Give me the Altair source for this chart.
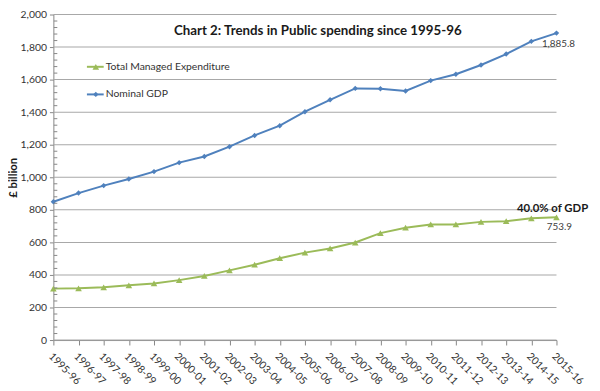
import altair as alt
import pandas as pd

years = ["1995-96", "1996-97", "1997-98", "1998-99", "1999-00", "2000-01", "2001-02",
         "2002-03", "2003-04", "2004-05", "2005-06", "2006-07", "2007-08", "2008-09",
         "2009-10", "2010-11", "2011-12", "2012-13", "2013-14", "2014-15", "2015-16"]
gdp = [850, 903, 949, 989, 1035, 1090, 1128, 1188, 1257, 1317, 1403, 1476, 1546, 1544,
       1530, 1594, 1633, 1690, 1757, 1835, 1885.8]
tme = [316, 318, 324, 336, 348, 368, 394, 428, 463, 503, 537, 563, 599, 657, 690, 710,
       710, 726, 730, 748, 753.9]
series_names = ["Total Managed Expenditure", "Nominal GDP"]
series_colors = ["#9BBB59", "#4F81BD"]
series_shapes = ["triangle-up", "diamond"]
y_ticks = [0, 200, 400, 600, 800, 1000, 1200, 1400, 1600, 1800, 2000]
minor_ticks = [v for v in range(40, 2000, 40) if v % 200 != 0]
title_text = "Chart 2: Trends in Public spending since 1995-96"
gdp_label = "1,885.8"
tme_label = "753.9"
share_label = "40.0% of GDP"

W, H = 510, 330
FONT = "Lato"

df = pd.DataFrame({
    "year": years * 2,
    "value": tme + gdp,
    "series": [series_names[0]] * len(years) + [series_names[1]] * len(years),
})

x_enc = alt.X("year:O", sort=years, scale=alt.Scale(padding=0),
              axis=alt.Axis(title=None, labelAngle=45, labelAlign="left",
                            labelBaseline="top", tickSize=5, labelPadding=6,
                            labelFontSize=10.5, grid=False, ticks=True))
y_axis = alt.Axis(values=y_ticks, format=",.0f", title="£ billion",
                  titleFontWeight="bold", titleFontSize=11.5,
                  titlePadding=2, tickSize=4, labelPadding=3,
                  labelFontSize=10.5, grid=False)
y_enc = alt.Y("value:Q", scale=alt.Scale(domain=[0, 2000], nice=False), axis=y_axis)
color_enc = alt.Color("series:N", scale=alt.Scale(domain=series_names, range=series_colors),
                      legend=None)

grid = alt.Chart(pd.DataFrame({"value": y_ticks})).mark_tick(
    color="#A8A8A8", thickness=1, size=W, opacity=1, orient="horizontal").encode(
    y=y_enc, x=alt.value(W / 2))

base = alt.Chart(df).encode(x=x_enc, y=y_enc, color=color_enc)
lines = base.mark_line(strokeWidth=2)
points = base.mark_point(filled=True, opacity=1).encode(
    shape=alt.Shape("series:N", scale=alt.Scale(domain=series_names, range=series_shapes),
                    legend=None),
    size=alt.Size("series:N", scale=alt.Scale(domain=series_names, range=[45, 30]),
                  legend=None),
)

minor = alt.Chart(pd.DataFrame({"value": minor_ticks})).mark_rule(
    color="#868686", strokeWidth=1).encode(
    y=y_enc, x=alt.value(0.5), x2=alt.value(4))

last = pd.DataFrame({"year": [years[-1]] * 3,
                     "value": [gdp[-1], tme[-1], tme[-1]],
                     "label": [gdp_label, tme_label, share_label],
                     "kind": ["gdp", "tme", "share"]})
ann_base = alt.Chart(last).encode(x=x_enc, y=y_enc, text="label:N")
ann_gdp = ann_base.transform_filter(alt.datum.kind == "gdp").mark_text(
    font=FONT, fontSize=10, color="#404040", dx=2, dy=11)
ann_tme = ann_base.transform_filter(alt.datum.kind == "tme").mark_text(
    font=FONT, fontSize=10, color="#404040", dx=3, dy=10)
ann_share = ann_base.transform_filter(alt.datum.kind == "share").mark_text(
    font=FONT, fontSize=11.5, fontWeight="bold", color="#1a1a1a", dx=-4, dy=-8)

title = alt.Chart(pd.DataFrame({"t": [title_text]})).mark_text(
    font=FONT, fontSize=13.5, fontWeight="bold", color="#1a1a1a").encode(
    text="t:N", x=alt.value(268), y=alt.value(17))

legend_layers = []
legend_y = [53, 81]
for i, name in enumerate(series_names):
    d = pd.DataFrame({"label": [name]})
    ly = legend_y[i]
    legend_layers.append(alt.Chart(d).mark_rule(color=series_colors[i], strokeWidth=2).encode(
        x=alt.value(34), x2=alt.value(51), y=alt.value(ly)))
    legend_layers.append(alt.Chart(d).mark_point(
        filled=True, opacity=1, color=series_colors[i], shape=series_shapes[i],
        size=45 if i == 0 else 30).encode(x=alt.value(43), y=alt.value(ly)))
    legend_layers.append(alt.Chart(d).mark_text(
        font=FONT, fontSize=10.5, color="#333333", align="left", baseline="middle").encode(
        text="label:N", x=alt.value(53), y=alt.value(ly)))

chart = alt.layer(grid, lines, points, minor, ann_gdp, ann_tme, ann_share, title,
                  *legend_layers).properties(
    width=W, height=H,
    autosize=alt.AutoSizeParams(type="none"),
    padding={"left": 46, "top": 4, "right": 36, "bottom": 45},
).configure_view(stroke=None).configure_axis(
    labelFont=FONT, titleFont=FONT, labelColor="#333333", titleColor="#1a1a1a",
    domainColor="#868686", tickColor="#868686",
).configure_text(font=FONT)

chart.save("out.html", embed_options={"renderer": "svg", "actions": False})
